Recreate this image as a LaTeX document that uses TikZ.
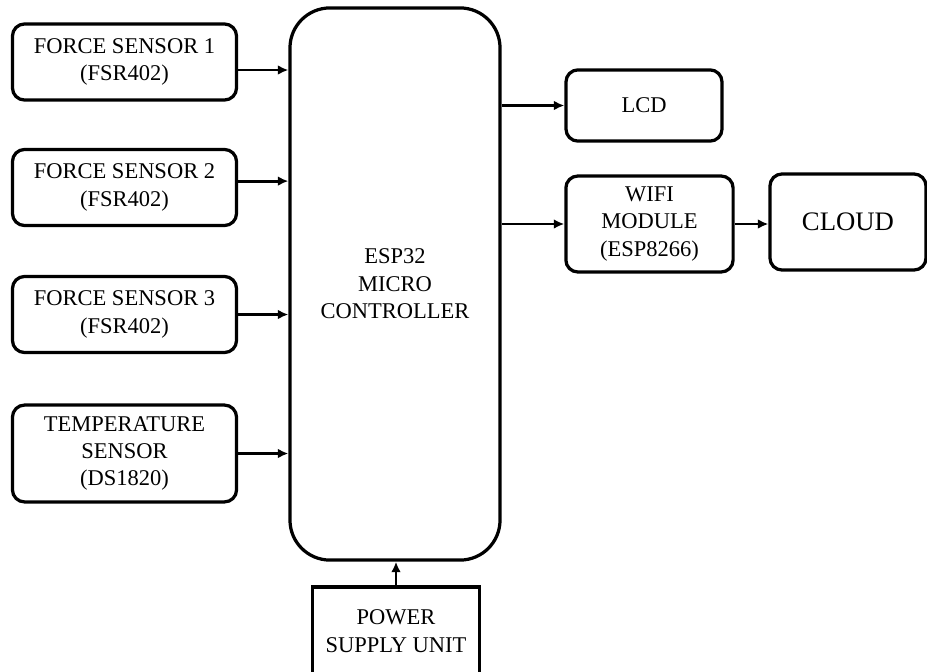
\documentclass[tikz,border=0pt]{standalone}
\usepackage{fontspec}
\setmainfont{Liberation Serif}
\usetikzlibrary{arrows.meta,positioning}
\tikzset{
  sensorbox/.style={draw=black,fill=white,line width=2.3pt,rounded corners=0.3cm,
                    minimum width=5.6cm,minimum height=1.9cm,
                    align=center,font=\fontsize{16}{19.5}\selectfont,inner sep=2pt},
  mcubox/.style={draw=black,fill=white,line width=2.3pt,rounded corners=1cm,
                 minimum width=5.25cm,minimum height=13.8cm,
                 align=center,font=\fontsize{16}{19.5}\selectfont},
  outbox/.style={sensorbox,minimum width=3.9cm,minimum height=1.78cm},
  psubox/.style={draw=black,fill=white,line width=2.3pt,
                 minimum width=4.18cm,minimum height=2.2cm,
                 align=center,font=\fontsize{16}{19.5}\selectfont},
  flowarr/.style={-{Latex[length=2.6mm,width=2.4mm]},line width=2pt}
}
\begin{document}
\begin{tikzpicture}[x=0.025cm,y=-0.025cm]
  \useasboundingbox (0,0) rectangle (927,671);
  \node[mcubox] (esp) at (395,284) {ESP32\\MICRO\\CONTROLLER};
  \node[sensorbox] (fs1) at (124.5,62) {FORCE SENSOR 1\\(FSR402)};
  \node[sensorbox] (fs2) at (124.5,187.5) {FORCE SENSOR 2\\(FSR402)};
  \node[sensorbox] (fs3) at (124.5,314.5) {FORCE SENSOR 3\\(FSR402)};
  \node[sensorbox,minimum height=2.42cm] (temp) at (124.5,453.5) {TEMPERATURE\\SENSOR\\(DS1820)};
  \node[outbox] (lcd) at (644,105.5) {LCD};
  \node[outbox,minimum width=4.18cm,minimum height=2.4cm] (wifi) at (649.5,224) {WIFI\\MODULE\\(ESP8266)};
  \node[outbox,minimum height=2.4cm,font=\fontsize{19}{22}\selectfont] (cloud) at (848,222) {CLOUD};
  \node[psubox] (psu) at (396,631) {POWER\\SUPPLY UNIT};
  % inputs
  \draw[flowarr] ([yshift=-0.2cm]fs1.east) -- ([yshift=-0.2cm]fs1.east -| esp.west);
  \draw[flowarr] ([yshift=0.16cm]fs2.east) -- ([yshift=0.16cm]fs2.east -| esp.west);
  \draw[flowarr] (fs3.east) -- (fs3.east -| esp.west);
  \draw[flowarr] (temp.east) -- (temp.east -| esp.west);
  \draw[flowarr] (psu.north) -- (psu.north |- esp.south);
  % outputs
  \draw[flowarr] (lcd.west -| esp.east) -- (lcd.west);
  \draw[flowarr] (wifi.west -| esp.east) -- (wifi.west);
  \draw[flowarr] (wifi.east) -- (wifi.east -| cloud.west);
\end{tikzpicture}
\end{document}
